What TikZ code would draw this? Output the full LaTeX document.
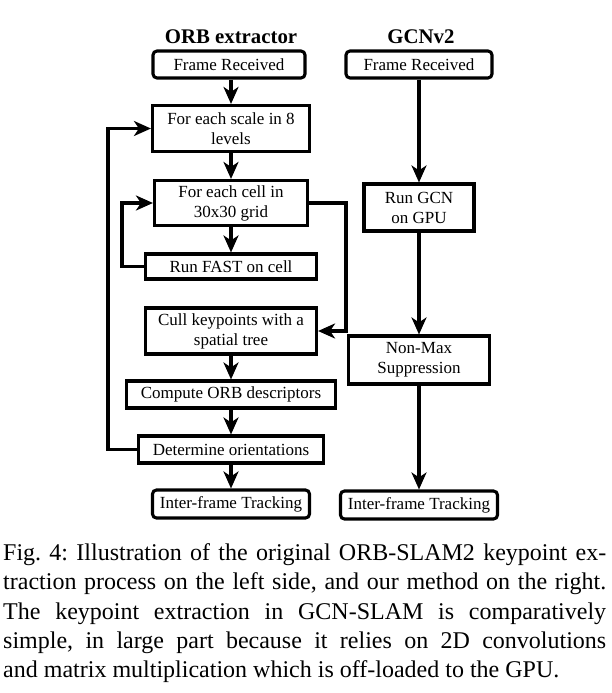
\documentclass[tikz,border=0pt]{standalone}
\usepackage{fontspec}
\setmainfont{Liberation Serif}
\usetikzlibrary{arrows.meta}
\begin{document}
\begin{tikzpicture}[x=1pt,y=-1pt,
  box/.style={draw=black, line width=3.1pt, inner sep=0pt, align=center,
    font=\fontsize{17}{20}\selectfont},
  rbox/.style={box, rounded corners=4pt},
  ttl/.style={inner sep=0pt, font=\fontsize{20.8}{24}\selectfont\bfseries},
  flow/.style={line width=3.1pt, -{Stealth[length=17pt,width=15pt,inset=5pt]}}
]
\useasboundingbox (0,0) rectangle (611,693);
% titles
\node[ttl] (tl) at (231,37) {ORB extractor};
\node[ttl] (tr) at (421,37) {GCNv2};
% left column
\node[rbox, minimum width=152pt, minimum height=27pt] (lf) at (229,64.5) {Frame Received};
\node[box, minimum width=157pt, minimum height=46pt] (sc) at (231,128.5) {For each scale in 8\\levels};
\node[box, minimum width=153pt, minimum height=45pt] (ce) at (231,203) {For each cell in\\30x30 grid};
\node[box, minimum width=171pt, minimum height=25pt] (fa) at (231,266.5) {Run FAST on cell};
\node[box, minimum width=171pt, minimum height=46pt] (cu) at (231,331) {Cull keypoints with a\\spatial tree};
\node[box, minimum width=209pt, minimum height=27pt] (co) at (231,394.5) {Compute ORB descriptors};
\node[box, minimum width=185pt, minimum height=27pt] (de) at (231,449.5) {Determine orientations};
\node[rbox, minimum width=157pt, minimum height=28pt] (il) at (231,504) {Inter-frame Tracking};
% right column
\node[rbox, minimum width=146pt, minimum height=27pt] (rf) at (419,64.5) {Frame Received};
\node[box, minimum width=110pt, minimum height=47pt] (gc) at (419,207.5) {Run GCN\\on GPU};
\node[box, minimum width=141pt, minimum height=48pt] (nm) at (419,360) {Non-Max\\Suppression};
\node[rbox, minimum width=157pt, minimum height=28pt] (ir) at (419,505) {Inter-frame Tracking};
% loop coordinates
\coordinate (lo) at (108,0);
\coordinate (li) at (122,0);
\coordinate (ri) at (346,0);
% left arrows
\draw[flow] (lf.south -| sc.north) -- (sc.north);
\draw[flow] (sc) -- (ce);
\draw[flow] (ce) -- (fa);
\draw[flow] (cu) -- (co);
\draw[flow] (co) -- (de);
\draw[flow] (de) -- (il);
% loops
\draw[flow] (de.west) -- (de.west -| lo) |- (sc.west);
\draw[flow] (fa.west) -- (fa.west -| li) |- (ce.west);
\draw[flow] (ce.east) -- (ce.east -| ri) |- (cu.east);
% right arrows
\draw[flow] (rf) -- (gc);
\draw[flow] (gc) -- (nm);
\draw[flow] (nm) -- (ir);
% caption
\node[anchor=north west, inner sep=0pt, text width=603pt, align=justify,
  font=\fontsize{24}{29.25}\selectfont] (cap) at (3,543.5) {\frenchspacing\hyphenpenalty=10000\relax
Fig. 4: Illustration of the original ORB-SLAM2 keypoint ex-\linebreak
traction process on the left side, and our method on the right.\linebreak
The keypoint extraction in GCN-SLAM is comparatively\linebreak
simple, in large part because it relies on 2D convolutions\linebreak
and matrix multiplication which is off-loaded to the GPU.};
\end{tikzpicture}
\end{document}
